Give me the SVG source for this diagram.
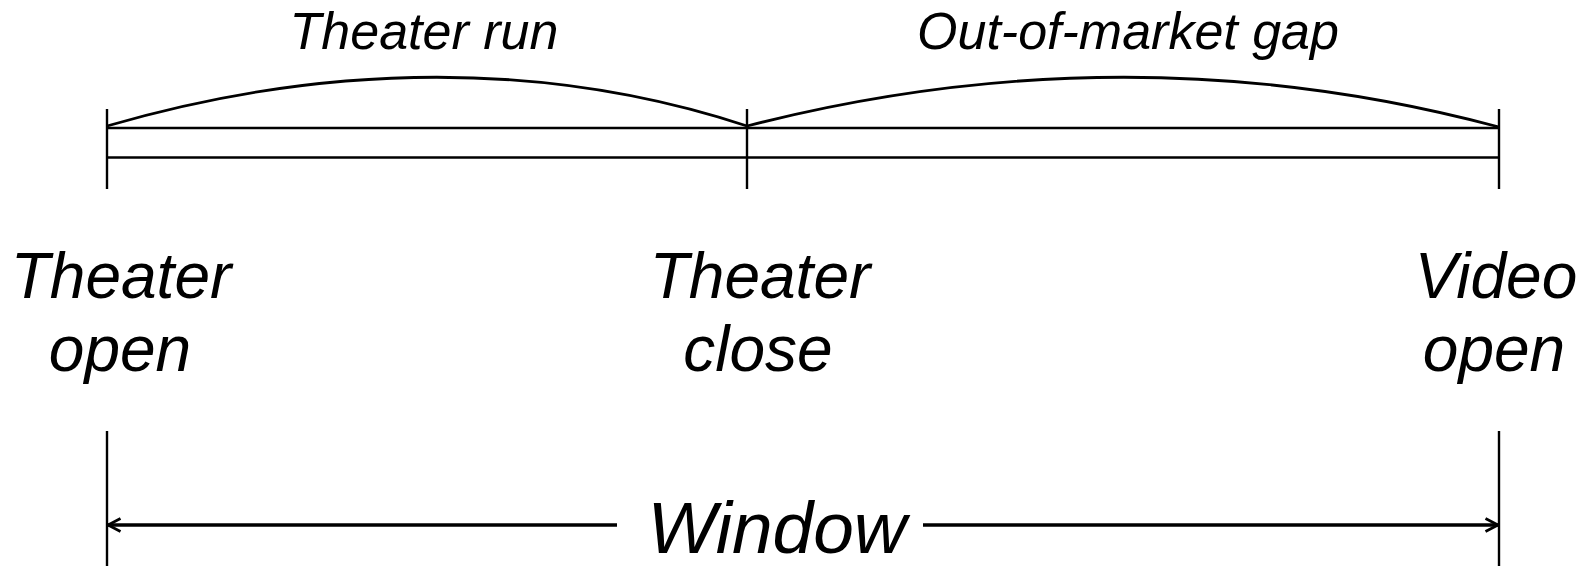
<svg xmlns="http://www.w3.org/2000/svg" width="1589" height="566" viewBox="0 0 1589 566">
  <style>
    .bg { fill: #ffffff; }
    .ln { stroke: #000000; stroke-width: 2.4; fill: none; }
    .arc { stroke: #000000; stroke-width: 2.8; fill: none; }
    .dim { stroke: #000000; stroke-width: 3.6; fill: none; }
    .lbl { font-family: "Liberation Sans", Arial, sans-serif; font-style: italic; fill: #000000; text-anchor: middle; }
    .small { font-size: 52px; }
    .big { font-size: 64px; }
    .huge { font-size: 73px; }
  </style>
  <defs>
    <marker id="arrowEnd" viewBox="0 0 16 16" refX="14.5" refY="8" markerWidth="16" markerHeight="16" markerUnits="userSpaceOnUse" orient="auto">
      <path d="M2,1.5 L14.5,8 L2,14.5" fill="none" stroke="#000000" stroke-width="2.8" stroke-linejoin="miter"/>
    </marker>
  </defs>
  <rect class="bg" x="0" y="0" width="1589" height="566"/>

  <!-- timeline bar and tick marks -->
  <g id="timeline">
    <line class="ln" x1="107" y1="128" x2="1499" y2="128"/>
    <line class="ln" x1="107" y1="157.5" x2="1499" y2="157.5"/>
    <line class="ln" x1="107" y1="109" x2="107" y2="189"/>
    <line class="ln" x1="747" y1="109" x2="747" y2="189"/>
    <line class="ln" x1="1499" y1="109" x2="1499" y2="189"/>
  </g>

  <!-- span arcs with their captions -->
  <g id="theater-run">
    <path class="arc" d="M107,126 C330,61 550,61 747,126"/>
    <text class="lbl small" x="424" y="49">Theater run</text>
  </g>
  <g id="out-of-market-gap">
    <path class="arc" d="M747,126 C1000,61 1252,61 1499,127"/>
    <text class="lbl small" x="1128" y="49">Out-of-market gap</text>
  </g>

  <!-- milestone labels -->
  <g id="theater-open">
    <text class="lbl big" x="121" y="298">Theater</text>
    <text class="lbl big" x="120" y="371">open</text>
  </g>
  <g id="theater-close">
    <text class="lbl big" x="760" y="298">Theater</text>
    <text class="lbl big" x="758" y="371">close</text>
  </g>
  <g id="video-open">
    <text class="lbl big" x="1496" y="298">Video</text>
    <text class="lbl big" x="1494" y="371">open</text>
  </g>

  <!-- window dimension -->
  <g id="connectors">
    <line class="ln" x1="107" y1="431" x2="107" y2="566"/>
    <line class="ln" x1="1499" y1="431" x2="1499" y2="566"/>
    <line class="dim" x1="617" y1="525" x2="108" y2="525" marker-end="url(#arrowEnd)"/>
    <line class="dim" x1="923" y1="525" x2="1498" y2="525" marker-end="url(#arrowEnd)"/>
  </g>
  <g id="window">
    <text class="lbl huge" x="777" y="553">Window</text>
  </g>
</svg>
